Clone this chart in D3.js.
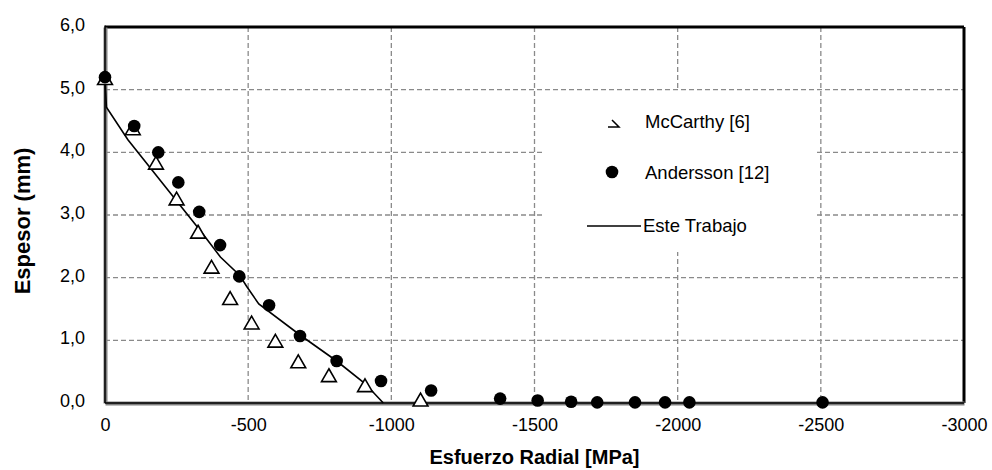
<!DOCTYPE html>
<html>
<head>
<meta charset="utf-8">
<script src="https://cdn.jsdelivr.net/npm/d3@7"></script>
<style>
  body { margin: 0; background: #fff; }
  svg { display: block; font-family: "Liberation Sans", Arial, sans-serif; }
</style>
</head>
<body>
<svg id="chart" width="992" height="470"></svg>
<script>
// McCarthy [6] - triangles
const mccarthyX = [0, -97, -178, -250, -325, -372, -437, -512, -595, -675, -782, -908, -1102];
const mccarthyY = [5.15, 4.35, 3.8, 3.23, 2.7, 2.14, 1.64, 1.25, 0.96, 0.63, 0.41, 0.25, 0.02];

// Andersson [12] - dots
const anderssonX = [0, -102, -186, -256, -329, -402, -469, -573, -681, -809, -964, -1139, -1380, -1511, -1628, -1719, -1851, -1956, -2041, -2506];
const anderssonY = [5.2, 4.42, 4.0, 3.52, 3.05, 2.52, 2.02, 1.56, 1.07, 0.67, 0.35, 0.2, 0.07, 0.04, 0.02, 0.01, 0.01, 0.01, 0.01, 0.01];

// Este Trabajo - line
const trabajoX = [0, -5, -80, -340, -403, -470, -495, -537, -681, -809, -908, -972];
const trabajoY = [5.18, 4.72, 4.2, 2.71, 2.33, 2.04, 1.86, 1.58, 1.085, 0.67, 0.31, 0];

const xTicks = [0, -500, -1000, -1500, -2000, -2500, -3000];
const yTicks = [0, 1, 2, 3, 4, 5, 6];
const legendLabels = ["McCarthy [6]", "Andersson [12]", "Este Trabajo"];

const svg = d3.select("#chart");
const margin = { left: 105, right: 28, top: 27, bottom: 67 };
const width = 992, height = 470;

const x = d3.scaleLinear().domain([0, -3000]).range([margin.left, width - margin.right]);
const y = d3.scaleLinear().domain([0, 6]).range([height - margin.bottom, margin.top]);

const fmtY = (d) => d3.format(".1f")(d).replace(".", ",");

// grid (the legend box hides part of it)
const grid = svg.append("g").attr("stroke", "#8a8a8a").attr("stroke-width", 1.3).attr("stroke-dasharray", "5,3");
grid.selectAll(".gx")
  .data(xTicks.slice(1, -1))
  .join("line")
  .attr("x1", (d) => x(d)).attr("x2", (d) => x(d))
  .attr("y1", y(6)).attr("y2", y(0));
grid.selectAll(".gy")
  .data(yTicks.slice(1, -1))
  .join("line")
  .attr("x1", x(0)).attr("x2", x(-3000))
  .attr("y1", (d) => y(d)).attr("y2", (d) => y(d));

svg.append("rect")
  .attr("x", 542).attr("y", 91).attr("width", 273).attr("height", 161)
  .attr("fill", "#fff");

// frame
svg.append("line").attr("x1", x(0)).attr("x2", x(-3000)).attr("y1", y(6)).attr("y2", y(6))
  .attr("stroke", "#000").attr("stroke-width", 3);
svg.append("line").attr("x1", x(-3000)).attr("x2", x(-3000)).attr("y1", y(6)).attr("y2", y(0))
  .attr("stroke", "#000").attr("stroke-width", 3);

// axes
const xAxis = d3.axisBottom(x).tickValues(xTicks).tickSize(0).tickPadding(15).tickFormat((d) => String(d));
const yAxis = d3.axisLeft(y).tickValues(yTicks).tickSize(0).tickPadding(20).tickFormat(fmtY);

svg.append("g")
  .attr("transform", `translate(0,${y(0)})`)
  .call(xAxis)
  .call((g) => {
    g.select(".domain").attr("stroke", "#808080").attr("stroke-width", 4);
    g.selectAll(".tick text").attr("font-size", 18).attr("font-family", "Liberation Sans, Arial").attr("fill", "#000");
  });

svg.append("g")
  .attr("transform", `translate(${x(0)},0)`)
  .call(yAxis)
  .call((g) => {
    g.select(".domain").attr("stroke", "#808080").attr("stroke-width", 4);
    g.selectAll(".tick text").attr("font-size", 18).attr("dy", "0.2em").attr("font-family", "Liberation Sans, Arial").attr("fill", "#000");
  });

// inner black axis lines
svg.append("line").attr("x1", x(0)).attr("x2", x(-3000)).attr("y1", y(0)).attr("y2", y(0))
  .attr("stroke", "#000").attr("stroke-width", 1.5);
svg.append("line").attr("x1", x(0)).attr("x2", x(0)).attr("y1", y(6) - 1.5).attr("y2", y(0))
  .attr("stroke", "#000").attr("stroke-width", 1.5);

// line series
const lineData = trabajoX.map((d, i) => [d, trabajoY[i]]);
svg.append("path")
  .datum(lineData)
  .attr("fill", "none")
  .attr("stroke", "#000")
  .attr("stroke-width", 1.6)
  .attr("d", d3.line().x((d) => x(d[0])).y((d) => y(d[1])));

// triangles
const tri = d3.symbol().type(d3.symbolTriangle).size(95);
svg.append("g")
  .selectAll("path")
  .data(mccarthyX.map((d, i) => [d, mccarthyY[i]]))
  .join("path")
  .attr("transform", (d) => `translate(${x(d[0])},${y(d[1])})`)
  .attr("d", tri)
  .attr("fill", "#fff")
  .attr("stroke", "#000")
  .attr("stroke-width", 1.6);

// dots
svg.append("g")
  .selectAll("circle")
  .data(anderssonX.map((d, i) => [d, anderssonY[i]]))
  .join("circle")
  .attr("cx", (d) => x(d[0]))
  .attr("cy", (d) => y(d[1]))
  .attr("r", 6.3)
  .attr("fill", "#000");

// legend
const legend = svg.append("g").attr("font-size", 18.5);
legend.append("path")
  .attr("d", "M608,127 L619,127 L612,120")
  .attr("fill", "none").attr("stroke", "#000").attr("stroke-width", 1.5);
legend.append("circle").attr("cx", 612).attr("cy", 172).attr("r", 6.3).attr("fill", "#000");
legend.append("line").attr("x1", 587).attr("x2", 641).attr("y1", 226).attr("y2", 226)
  .attr("stroke", "#000").attr("stroke-width", 1.6);
legend.selectAll("text")
  .data(legendLabels)
  .join("text")
  .attr("x", (d, i) => (i === 2 ? 643 : 645))
  .attr("y", (d, i) => [122, 173, 226][i])
  .attr("dy", "0.35em")
  .text((d) => d);

// axis titles
svg.append("text")
  .attr("x", (x(0) + x(-3000)) / 2)
  .attr("y", 464)
  .attr("text-anchor", "middle")
  .attr("font-size", 20)
  .attr("font-weight", "bold")
  .text("Esfuerzo Radial [MPa]");

svg.append("text")
  .attr("transform", `translate(30,${(y(0) + y(6)) / 2 + 6}) rotate(-90)`)
  .attr("text-anchor", "middle")
  .attr("font-size", 22)
  .attr("font-weight", "bold")
  .text("Espesor (mm)");
</script>
</body>
</html>
